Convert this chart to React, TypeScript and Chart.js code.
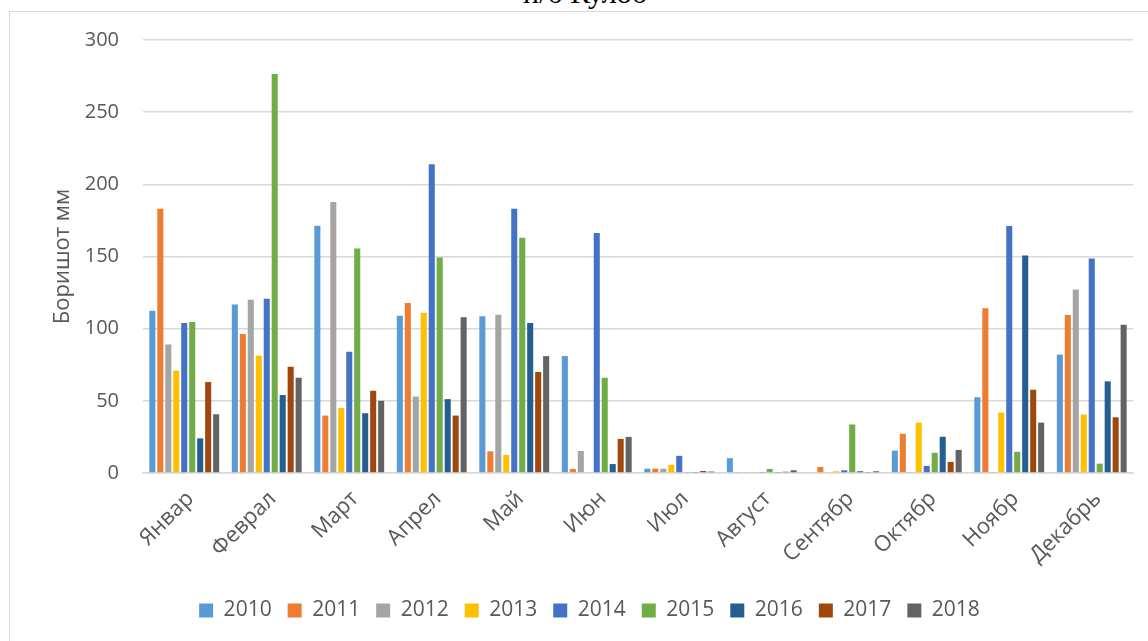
import React, { useEffect, useRef } from "react";
import { Chart, registerables } from "chart.js";

Chart.register(...registerables);

const months = ["Январ", "Феврал", "Март", "Апрел", "Май", "Июн", "Июл", "Август", "Сентябр", "Октябр", "Ноябр", "Декабрь"];
const years = ["2010", "2011", "2012", "2013", "2014", "2015", "2016", "2017", "2018"];
const colors = ["#5B9BD5", "#ED7D31", "#A5A5A5", "#FFC000", "#4472C4", "#70AD47", "#255E91", "#9E480E", "#636363"];

const y2010 = [112.5, 116.7, 171.3, 109, 108.6, 81, 3, 10.3, 0, 15.5, 52.5, 82];
const y2011 = [183, 96.3, 39.8, 117.8, 15, 2.8, 3, 0.7, 4.2, 27.2, 114.2, 109.5];
const y2012 = [89, 120, 187.7, 53, 109.7, 15.3, 3, 0.7, 0, 0.7, 0.3, 127.2];
const y2013 = [71, 81.3, 45, 111, 12.5, 0, 5.6, 0.7, 1.2, 34.9, 41.9, 40.5];
const y2014 = [104, 120.8, 84, 214, 183, 166.2, 11.9, 0.7, 1.9, 4.9, 171.2, 148.6];
const y2015 = [104.6, 276.5, 155.5, 149.3, 163, 66, 0.7, 2.8, 33.6, 14, 14.7, 6.5];
const y2016 = [24, 54, 41.4, 51.2, 104, 6.2, 0.7, 0.7, 1.2, 25.1, 150.7, 63.5];
const y2017 = [63, 73.6, 57, 39.8, 70, 23.6, 1.4, 0.9, 0.7, 7.7, 57.7, 38.6];
const y2018 = [40.7, 66, 50, 107.9, 81, 25, 1, 1.9, 1.2, 16, 34.9, 102.8];

const series = [y2010, y2011, y2012, y2013, y2014, y2015, y2016, y2017, y2018];

const titleText = "и/б Кулоб";
const yAxisTitle = "Боришот мм";

export default function App() {
  const canvasRef = useRef<HTMLCanvasElement | null>(null);

  useEffect(() => {
    if (!canvasRef.current) return;
    const font = "'Open Sans', sans-serif";
    const chart = new Chart(canvasRef.current, {
      type: "bar",
      data: {
        labels: months,
        datasets: years.map((y, i) => ({
          label: y,
          data: series[i],
          backgroundColor: colors[i],
          borderWidth: 0,
          categoryPercentage: 0.87,
          barPercentage: 0.76,
        })),
      },
      options: {
        animation: false,
        responsive: false,
        maintainAspectRatio: false,
        layout: { padding: { left: 46, right: 15, top: 40, bottom: 10 } },
        plugins: {
          legend: {
            position: "bottom",
            labels: {
              font: { family: font, size: 21 },
              color: "#595959",
              boxWidth: 14,
              boxHeight: 14,
              padding: 16,
            },
          },
          tooltip: { enabled: false },
        },
        scales: {
          x: {
            grid: { display: false, drawTicks: false },
            border: { display: true, color: "#d9d9d9", width: 1.5 },
            ticks: {
              font: { family: font, size: 22 },
              color: "#595959",
              minRotation: 45,
              maxRotation: 45,
              padding: 13,
              labelOffset: 6,
              autoSkip: false,
            },
            afterFit: (scale: any) => {
              scale.height = 111;
            },
          },
          y: {
            min: 0,
            max: 300,
            grid: { color: "#d9d9d9", lineWidth: 1.5, drawTicks: false },
            border: { display: false },
            ticks: {
              stepSize: 50,
              font: { family: font, size: 20 },
              color: "#595959",
              padding: 24,
            },
            title: {
              display: true,
              text: yAxisTitle,
              font: { family: font, size: 22 },
              color: "#595959",
              padding: { top: 4, bottom: 0 },
            },
            afterFit: (scale: any) => {
              scale.width = 97;
            },
          },
        },
      },
    });
    return () => chart.destroy();
  }, []);

  return (
    <div style={{ position: "absolute", left: 0, top: 0, width: 1148, height: 641, overflow: "hidden", background: "#fff" }}>
      <div
        style={{
          position: "absolute",
          left: 9,
          top: 11,
          width: 1200,
          height: 700,
          border: "1px solid #d9d9d9",
          boxSizing: "border-box",
        }}
      />
      <div
        style={{
          position: "absolute",
          left: 485,
          width: 200,
          top: -22,
          textAlign: "center",
          fontFamily: "'Liberation Serif', 'Times New Roman', serif",
          fontSize: 30,
          lineHeight: "30px",
          color: "#000",
          whiteSpace: "nowrap",
        }}
      >
        {titleText}
      </div>
      <canvas ref={canvasRef} width={1148} height={641} style={{ position: "absolute", left: 0, top: 0 }} />
    </div>
  );
}
